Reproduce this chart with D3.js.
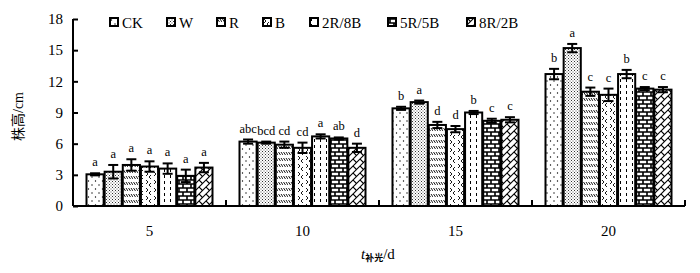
<!DOCTYPE html>
<html>
<head>
<meta charset="utf-8">
<script src="https://cdn.jsdelivr.net/npm/d3@7"></script>
<style>
  body { margin: 0; background: #fff; }
  svg { display: block; }
</style>
</head>
<body>
<div id="chart"></div>
<script>
const days = ["5", "10", "15", "20"];
const treatments = ["CK", "W", "R", "B", "2R/8B", "5R/5B", "8R/2B"];
// plant height (cm), one array per treatment, by day
const means = {
  "CK":    [3.05, 6.2, 9.4, 12.7],
  "W":     [3.3, 6.1, 10.0, 15.2],
  "R":     [3.95, 5.9, 7.8, 11.0],
  "B":     [3.8, 5.6, 7.4, 10.7],
  "2R/8B": [3.6, 6.7, 9.0, 12.7],
  "5R/5B": [2.9, 6.5, 8.2, 11.3],
  "8R/2B": [3.7, 5.6, 8.3, 11.2]
};
const errors = {
  "CK":    [0.1, 0.2, 0.15, 0.5],
  "W":     [0.65, 0.1, 0.15, 0.4],
  "R":     [0.55, 0.3, 0.3, 0.4],
  "B":     [0.5, 0.5, 0.3, 0.6],
  "2R/8B": [0.5, 0.2, 0.15, 0.4],
  "5R/5B": [0.6, 0.1, 0.2, 0.15],
  "8R/2B": [0.45, 0.4, 0.25, 0.25]
};
const letters = {
  "CK":    ["a", "abc", "b", "b"],
  "W":     ["a", "bcd", "a", "a"],
  "R":     ["a", "cd", "d", "c"],
  "B":     ["a", "cd", "d", "c"],
  "2R/8B": ["a", "a", "b", "b"],
  "5R/5B": ["a", "ab", "c", "c"],
  "8R/2B": ["a", "d", "c", "c"]
};
const yTicks = [0, 3, 6, 9, 12, 15, 18];

const width = 700, height = 273;
const margin = { top: 19, right: 15, bottom: 67, left: 73 };
const innerWidth = width - margin.left - margin.right;
const innerHeight = height - margin.top - margin.bottom;
const serif = "'Liberation Serif', 'DejaVu Serif', serif";

const svg = d3.select("#chart").append("svg")
  .attr("width", width)
  .attr("height", height);

// fill patterns
const defs = svg.append("defs");
const patternIds = {};
function makePattern(name, w, h, draw) {
  const id = "pat" + Object.keys(patternIds).length;
  patternIds[name] = id;
  const p = defs.append("pattern")
    .attr("id", id)
    .attr("patternUnits", "userSpaceOnUse")
    .attr("width", w)
    .attr("height", h);
  p.append("rect").attr("width", w).attr("height", h).attr("fill", "#fff");
  draw(p);
}
makePattern("CK", 7, 8, (p) => {
  p.append("circle").attr("cx", 1.5).attr("cy", 2).attr("r", 0.7).attr("fill", "#000");
  p.append("circle").attr("cx", 5).attr("cy", 6).attr("r", 0.7).attr("fill", "#000");
});
makePattern("W", 3, 3, (p) => {
  p.append("rect").attr("x", 0).attr("y", 0).attr("width", 1).attr("height", 1).attr("fill", "#333");
  p.append("rect").attr("x", 1.5).attr("y", 1.5).attr("width", 1).attr("height", 1).attr("fill", "#555");
});
makePattern("R", 5, 6, (p) => {
  p.append("line").attr("x1", 0.5).attr("y1", 1).attr("x2", 2.5).attr("y2", 4)
    .attr("stroke", "#000").attr("stroke-width", 0.9);
  p.append("line").attr("x1", 3).attr("y1", 1).attr("x2", 5).attr("y2", 4)
    .attr("stroke", "#000").attr("stroke-width", 0.9);
});
makePattern("B", 8, 8, (p) => {
  p.append("path").attr("d", "M1,1 L3,3 L1,5 M6,4 L4,6 L6,8")
    .attr("fill", "none").attr("stroke", "#000").attr("stroke-width", 0.9);
});
makePattern("2R/8B", 6, 6, (p) => {
  p.append("line").attr("x1", 1.5).attr("y1", 0).attr("x2", 1.5).attr("y2", 3)
    .attr("stroke", "#000").attr("stroke-width", 1);
});
makePattern("5R/5B", 8, 8, (p) => {
  p.append("path").attr("d", "M0,1 H8 M0,5 H8 M2,1 V5 M6,5 V8 M6,0 V1")
    .attr("fill", "none").attr("stroke", "#000").attr("stroke-width", 1.6);
});
makePattern("8R/2B", 7, 7, (p) => {
  p.append("path").attr("d", "M-1,8 L8,-1 M-1,1 L1,-1 M6,8 L8,6")
    .attr("fill", "none").attr("stroke", "#000").attr("stroke-width", 1.1);
  p.append("path").attr("d", "M0,0 L3.5,3.5")
    .attr("fill", "none").attr("stroke", "#000").attr("stroke-width", 1.1);
});

const g = svg.append("g")
  .attr("transform", `translate(${margin.left},${margin.top})`);

// scales
const x0 = d3.scaleBand().domain(days).range([0, innerWidth]).padding(0);
const x1 = d3.scaleBand().domain(treatments)
  .range([13, x0.bandwidth() - 13]).padding(0);
const y = d3.scaleLinear().domain([0, 18]).range([innerHeight, 0]);

// data rows
const rows = [];
days.forEach((day, i) => {
  treatments.forEach((t) => {
    rows.push({ day, t, v: means[t][i], e: errors[t][i], l: letters[t][i] });
  });
});

// bars
const bars = g.append("g").attr("class", "bars");
bars.selectAll("rect")
  .data(rows)
  .join("rect")
  .attr("x", (d) => x0(d.day) + x1(d.t) + 0.5)
  .attr("y", (d) => y(d.v))
  .attr("width", x1.bandwidth() - 1)
  .attr("height", (d) => y(0) - y(d.v))
  .attr("fill", (d) => `url(#${patternIds[d.t]})`)
  .attr("stroke", "#000")
  .attr("stroke-width", 2);

// error bars
const err = g.append("g").attr("class", "errors")
  .attr("stroke", "#000").attr("stroke-width", 2);
rows.forEach((d) => {
  const cx = x0(d.day) + x1(d.t) + x1.bandwidth() / 2;
  err.append("line")
    .attr("x1", cx).attr("x2", cx)
    .attr("y1", y(d.v + d.e)).attr("y2", y(d.v - d.e));
  [d.v + d.e, d.v - d.e].forEach((v) => {
    err.append("line")
      .attr("x1", cx - 5).attr("x2", cx + 5)
      .attr("y1", y(v)).attr("y2", y(v));
  });
});

// significance letters
g.append("g").selectAll("text")
  .data(rows)
  .join("text")
  .attr("x", (d) => x0(d.day) + x1(d.t) + x1.bandwidth() / 2)
  .attr("y", (d) => y(d.v + d.e) - 7)
  .attr("text-anchor", "middle")
  .attr("font-family", serif)
  .attr("font-size", 12.5)
  .attr("fill", "#000")
  .text((d) => d.l);

// y axis
const yAxisG = g.append("g").attr("class", "y-axis")
  .call(d3.axisLeft(y).tickValues(yTicks).tickSize(-5).tickPadding(10));
yAxisG.select(".domain").attr("stroke-width", 2).attr("d", `M0,0V${innerHeight}`);
yAxisG.selectAll(".tick line").attr("stroke-width", 2);
yAxisG.selectAll(".tick text")
  .attr("font-family", serif).attr("font-size", 15).attr("fill", "#000");

// x axis
const xAxisG = g.append("g").attr("class", "x-axis")
  .attr("transform", `translate(0,${innerHeight})`)
  .call(d3.axisBottom(x0).tickSize(0).tickPadding(19));
xAxisG.select(".domain").attr("stroke-width", 2).attr("d", `M0,0H${innerWidth}`);
xAxisG.selectAll(".tick text")
  .attr("font-family", serif).attr("font-size", 15).attr("fill", "#000");
xAxisG.selectAll(".sep")
  .data(days)
  .join("line")
  .attr("class", "sep")
  .attr("x1", (d) => x0(d) + x0.bandwidth())
  .attr("x2", (d) => x0(d) + x0.bandwidth())
  .attr("y1", 0).attr("y2", -6)
  .attr("stroke", "#000").attr("stroke-width", 2);

// axis titles
svg.append("text")
  .attr("transform", `translate(23,${margin.top + innerHeight / 2 + 4}) rotate(-90)`)
  .attr("text-anchor", "middle")
  .attr("font-size", 14)
  .attr("font-family", serif + ", 'Noto Sans CJK SC'")
  .text("株高/cm");

const xt = svg.append("text")
  .attr("x", 361).attr("y", 259)
  .attr("font-family", serif)
  .attr("font-size", 15);
xt.append("tspan").attr("font-style", "italic").text("t");
xt.append("tspan").attr("font-size", 9).attr("dy", 2)
  .attr("font-family", "'Noto Sans CJK SC'").attr("font-weight", "bold").text("补光");
xt.append("tspan").attr("dy", -2).text("/d");

// legend
const legendX = [110, 167, 217, 263, 310, 388, 467];
const legend = svg.append("g").attr("class", "legend");
treatments.forEach((t, i) => {
  const lg = legend.append("g").attr("transform", `translate(${legendX[i]},18)`);
  lg.append("rect")
    .attr("x", 0).attr("y", 0).attr("width", 8).attr("height", 8)
    .attr("fill", `url(#${patternIds[t]})`)
    .attr("stroke", "#000").attr("stroke-width", 2);
  lg.append("text")
    .attr("x", 12).attr("y", 9.5)
    .attr("font-family", serif)
    .attr("font-size", 15)
    .text(t);
});
</script>
</body>
</html>
